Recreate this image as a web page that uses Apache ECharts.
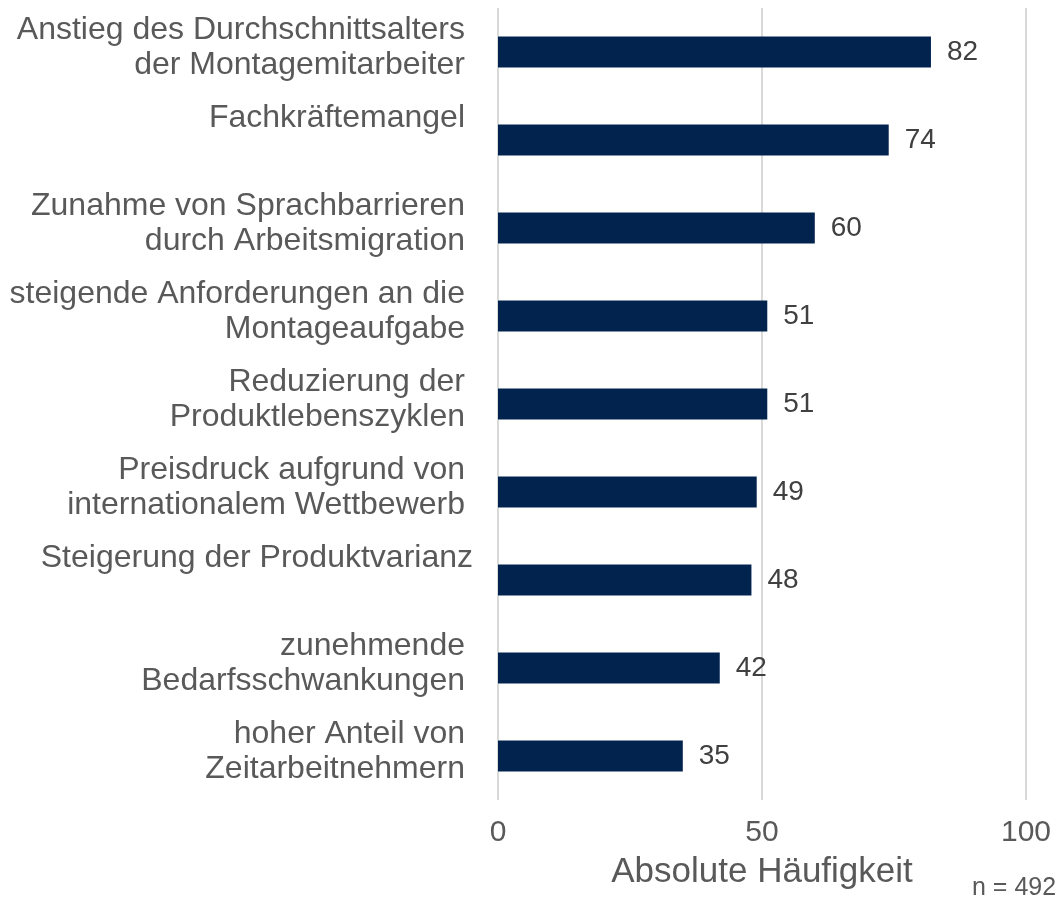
<!DOCTYPE html>
<html>
<head>
<meta charset="utf-8">
<script src="https://cdn.jsdelivr.net/npm/echarts@6/dist/echarts.min.js"></script>
<style>
  html, body { margin: 0; padding: 0; background: #fff; }
  #chart { width: 1061px; height: 897px; }
</style>
</head>
<body>
<div id="chart"></div>
<script>
var categories = [
    'Anstieg des Durchschnittsalters\nder Montagemitarbeiter',
    'Fachkräftemangel',
    'Zunahme von Sprachbarrieren\ndurch Arbeitsmigration',
    'steigende Anforderungen an die\nMontageaufgabe',
    'Reduzierung der\nProduktlebenszyklen',
    'Preisdruck aufgrund von\ninternationalem Wettbewerb',
    'Steigerung der Produktvarianz',
    'zunehmende\nBedarfsschwankungen',
    'hoher Anteil von\nZeitarbeitnehmern'
];
var values = [82, 74, 60, 51, 51, 49, 48, 42, 35];
var xTicks = [0, 50, 100];

var dom = document.getElementById('chart');
var myChart = echarts.init(dom);

var font = 'Liberation Sans, Arial, sans-serif';

option = {
    animation: false,
    grid: {
        left: 498,
        right: 35,
        top: 8,
        bottom: 97
    },
    xAxis: {
        type: 'value',
        min: xTicks[0],
        max: xTicks[xTicks.length - 1],
        interval: xTicks[1] - xTicks[0],
        axisLine: { show: false },
        axisTick: { show: false },
        splitLine: { lineStyle: { color: '#d9d9d9', width: 2 } },
        axisLabel: { fontSize: 30, color: '#595959', margin: 18, fontFamily: font },
        name: 'Absolute Häufigkeit',
        nameLocation: 'middle',
        nameGap: 55,
        nameTextStyle: { fontSize: 35, color: '#595959', fontFamily: font }
    },
    yAxis: {
        type: 'category',
        inverse: true,
        data: categories,
        axisLine: { show: false },
        axisTick: { show: false },
        axisLabel: {
            margin: 25,
            padding: [0, 0, 8, 0],
            formatter: function (v) {
                var lines = v.split('\n');
                // einzeilige Beschriftungen stehen oben (leere zweite Zeile)
                if (lines.length === 1) lines.push(' ');
                var style = v.indexOf('Produktvarianz') >= 0 ? 'b' : 'a';
                return lines.map(function (l) { return '{' + style + '|' + l + '}'; }).join('\n');
            },
            rich: {
                a: { fontSize: 32, lineHeight: 35, color: '#595959', fontFamily: font, padding: [0, 8, 0, 0] },
                b: { fontSize: 32, lineHeight: 35, color: '#595959', fontFamily: font }
            }
        }
    },
    series: [
        {
            type: 'bar',
            data: values,
            barWidth: '35%',
            itemStyle: { color: '#03234f' },
            label: {
                show: true,
                position: 'right',
                distance: 16,
                fontSize: 28,
                color: '#404040',
                fontFamily: font
            }
        }
    ],
    graphic: [
        {
            type: 'text',
            left: 972,
            top: 876,
            style: { text: 'n = 492', fontSize: 25, fill: '#595959', fontFamily: font }
        }
    ]
};

myChart.setOption(option);
</script>
</body>
</html>
